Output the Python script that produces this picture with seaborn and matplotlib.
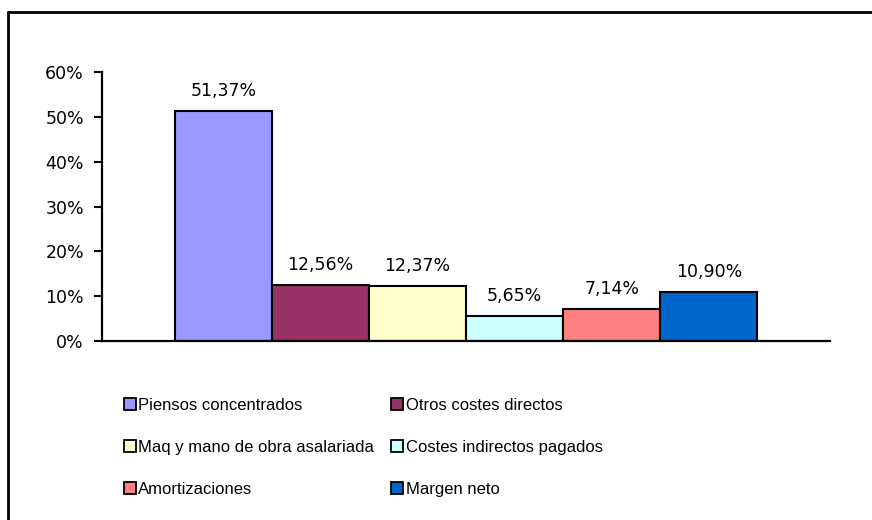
import matplotlib
matplotlib.use("Agg")
import matplotlib.pyplot as plt
from matplotlib.lines import Line2D
import seaborn as sns
import pandas as pd

categories = [
    "Piensos concentrados",
    "Otros costes directos",
    "Maq y mano de obra asalariada",
    "Costes indirectos pagados",
    "Amortizaciones",
    "Margen neto",
]
values = [51.37, 12.56, 12.37, 5.65, 7.14, 10.90]
value_labels = ["51,37%", "12,56%", "12,37%", "5,65%", "7,14%", "10,90%"]
colors = ["#9999FF", "#993366", "#FFFFCC", "#CCFFFF", "#FF8080", "#0066CC"]
y_ticks = [0, 10, 20, 30, 40, 50, 60]
y_tick_labels = ["0%", "10%", "20%", "30%", "40%", "50%", "60%"]

sns.set_theme(style="white")
plt.rcParams["font.family"] = ["DejaVu Sans"]

df = pd.DataFrame({"cat": categories, "val": values})

fig = plt.figure(figsize=(8.72, 5.2), dpi=100)
ax = fig.add_axes([0.117, 0.344, 0.835, 0.5175])

sns.barplot(data=df, x="cat", y="val", hue="cat", palette=colors,
            width=1.0, dodge=False, legend=False, ax=ax,
            edgecolor="black", linewidth=1.5, saturation=1)

for patch, lab in zip(ax.patches, value_labels):
    cx = patch.get_x() + patch.get_width() / 2
    ax.annotate(lab, (cx, patch.get_height()), xytext=(0, 8),
                textcoords="offset points", ha="center", va="bottom",
                fontsize=12.5, color="black")

ax.set_xlim(-1.25, 6.25)
ax.set_ylim(0, 60)
ax.set_yticks(y_ticks)
ax.set_yticklabels(y_tick_labels, fontsize=12.5)
ax.set_xticks([])
ax.set_xlabel("")
ax.set_ylabel("")
for side in ("top", "right"):
    ax.spines[side].set_visible(False)
for side in ("left", "bottom"):
    ax.spines[side].set_color("black")
    ax.spines[side].set_linewidth(1.6)
ax.tick_params(axis="y", which="both", left=True, length=6, width=1.5,
               color="black", pad=7, labelcolor="black")

# Legend in two columns, filled row by row
handles = [Line2D([0], [0], marker="s", linestyle="none", markersize=8.5,
                  markerfacecolor=c, markeredgecolor="black",
                  markeredgewidth=1.3) for c in colors]
legend_font = {"family": ["Liberation Sans", "DejaVu Sans"], "size": 12}
for col, x_anchor in ((0, 0.1414), (1, 0.448)):
    idx = [col, col + 2, col + 4]
    leg = fig.legend([handles[i] for i in idx], [categories[i] for i in idx],
                     loc="upper left", bbox_to_anchor=(x_anchor, 0.234),
                     ncol=1, frameon=False, prop=legend_font,
                     handletextpad=0.1, handlelength=0.8,
                     labelspacing=1.6, borderaxespad=0, borderpad=0)
    for t in leg.get_texts():
        t.set_color("black")

# Frame line along the top and left of the chart area
fig.add_artist(Line2D([8 / 872, 8 / 872], [0, 1 - 12 / 520],
                      transform=fig.transFigure, color="black", linewidth=2))
fig.add_artist(Line2D([8 / 872, 1], [1 - 12 / 520, 1 - 12 / 520],
                      transform=fig.transFigure, color="black", linewidth=2))

fig.savefig("out.png", dpi=100)
